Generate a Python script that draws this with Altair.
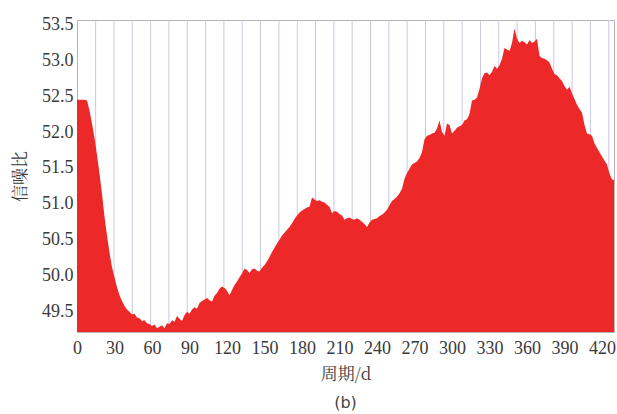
import altair as alt
import pandas as pd

# Signal-to-noise ratio against period (days)
days = list(range(0, 432, 2))
snr = [
    52.45, 52.45, 52.45, 52.45, 52.44, 52.30, 52.12, 51.92, 51.68, 51.42,
    51.14, 50.82, 50.56, 50.32, 50.12, 49.98, 49.84, 49.73, 49.65, 49.58,
    49.53, 49.50, 49.46, 49.47, 49.42, 49.41, 49.37, 49.38, 49.34, 49.33,
    49.30, 49.32, 49.27, 49.29, 49.31, 49.27, 49.34, 49.33, 49.38, 49.36,
    49.44, 49.40, 49.37, 49.45, 49.50, 49.47, 49.53, 49.56, 49.54, 49.62,
    49.65, 49.67, 49.69, 49.66, 49.64, 49.72, 49.76, 49.82, 49.85, 49.83,
    49.79, 49.73, 49.80, 49.87, 49.92, 49.98, 50.03, 50.10, 50.08, 50.04,
    50.09, 50.10, 50.07, 50.06, 50.11, 50.15, 50.20, 50.26, 50.33, 50.39,
    50.45, 50.50, 50.56, 50.60, 50.64, 50.68, 50.73, 50.79, 50.84, 50.88,
    50.91, 50.93, 50.95, 50.96, 51.09, 51.06, 51.04, 51.05, 51.03, 51.02,
    50.99, 50.96, 50.87, 50.90, 50.89, 50.86, 50.84, 50.78, 50.80, 50.81,
    50.79, 50.78, 50.80, 50.78, 50.75, 50.72, 50.68, 50.74, 50.78, 50.79,
    50.80, 50.83, 50.85, 50.88, 50.92, 50.98, 51.04, 51.07, 51.10, 51.15,
    51.21, 51.35, 51.43, 51.49, 51.55, 51.57, 51.59, 51.64, 51.72, 51.90,
    51.95, 51.96, 51.98, 51.99, 52.05, 52.16, 52.00, 51.95, 52.12, 52.10,
    51.98, 52.02, 52.06, 52.08, 52.10, 52.16, 52.18, 52.25, 52.44, 52.45,
    52.48, 52.60, 52.75, 52.82, 52.83, 52.79, 52.84, 52.92, 52.88, 52.93,
    53.02, 53.17, 53.15, 53.13, 53.24, 53.44, 53.30, 53.24, 53.27, 53.25,
    53.22, 53.28, 53.24, 53.26, 53.30, 53.06, 53.03, 53.02, 53.00, 52.97,
    52.88, 52.81, 52.79, 52.75, 52.71, 52.64, 52.59, 52.63, 52.54, 52.46,
    52.38, 52.32, 52.27, 52.10, 51.98, 51.97, 51.95, 51.84, 51.78, 51.72,
    51.66, 51.60, 51.55, 51.42, 51.34, 51.33,
]

# Vertical guide lines
grid_days = [
    14.9, 29.6, 44.2, 58.9, 73.5, 88.2, 102.9, 117.5, 132.2, 146.8,
    161.5, 176.2, 190.8, 205.5, 220.1, 234.8, 249.5, 264.1, 278.8, 293.4,
    308.1, 322.8, 337.4, 352.1, 366.7, 381.4, 396.1, 410.7, 425.4,
]

x_ticks = list(range(0, 421, 30))
y_ticks = [49.5, 50.0, 50.5, 51.0, 51.5, 52.0, 52.5, 53.0, 53.5]

X_DOMAIN = [0, 429.6]
Y_DOMAIN = [49.217, 53.56]

df = pd.DataFrame({"day": days, "snr": snr})
grid_df = pd.DataFrame({"day": grid_days})

serif = "Times New Roman, Liberation Serif, serif"
cjk = "Noto Serif CJK SC, Noto Sans CJK SC, serif"
label_color = "#3a3a3a"

x_scale = alt.Scale(domain=X_DOMAIN, nice=False, zero=False)
y_scale = alt.Scale(domain=Y_DOMAIN, nice=False, zero=False)

x_axis = alt.Axis(
    title="周期/d",
    values=x_ticks,
    grid=False,
    domain=False,
    ticks=False,
    labelOverlap=False,
    labelFlush=False,
    labelPadding=7,
    labelFont=serif,
    labelFontSize=18,
    labelColor=label_color,
    titleFont=cjk,
    titleFontSize=17,
    titleFontWeight="normal",
    titleColor=label_color,
    titlePadding=9,
)

y_axis = alt.Axis(
    title="信噪比",
    values=y_ticks,
    format=".1f",
    grid=False,
    domain=False,
    ticks=False,
    labelOverlap=False,
    labelPadding=4,
    labelFont=serif,
    labelFontSize=18,
    labelColor=label_color,
    titleFont=cjk,
    titleFontSize=17,
    titleFontWeight="normal",
    titleColor=label_color,
    titlePadding=12,
)

grid = alt.Chart(grid_df).mark_rule(color="#c8c8e6", strokeWidth=1).encode(
    x=alt.X("day:Q", scale=x_scale, axis=x_axis)
)

area = alt.Chart(df).mark_area(color="#ec2828", interpolate="linear", clip=True).encode(
    x=alt.X("day:Q", scale=x_scale, axis=x_axis),
    y=alt.Y("snr:Q", scale=y_scale, axis=y_axis),
    y2=alt.datum(Y_DOMAIN[0]),
)

chart = (
    alt.layer(grid, area)
    .properties(
        width=537,
        height=312,
        padding={"left": 77, "top": 20, "right": 3, "bottom": 82},
        autosize=alt.AutoSizeParams(type="none"),
        title=alt.TitleParams(
            "(b)",
            orient="bottom",
            anchor="middle",
            font="DejaVu Sans",
            fontSize=16,
            fontWeight="normal",
            color="#444444",
            offset=13,
        ),
    )
    .configure_view(stroke="#b4b4b4", strokeWidth=1)
)

chart.save("out.html", embed_options={"renderer": "svg", "actions": False})
